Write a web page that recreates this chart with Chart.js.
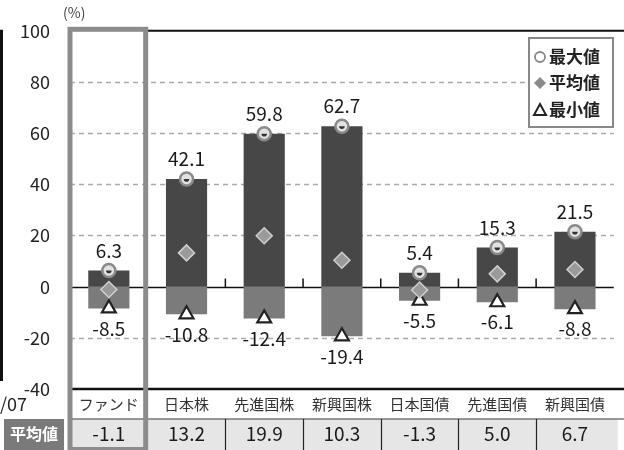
<!DOCTYPE html>
<html>
<head>
<meta charset="utf-8">
<script src="https://cdn.jsdelivr.net/npm/chart.js@4"></script>
<style>
  html, body { margin: 0; padding: 0; background: #fff; }
  #wrap { width: 624px; height: 450px; position: relative; }
</style>
</head>
<body>
<div id="wrap"><canvas id="chart" width="624" height="450"></canvas></div>
<script>
const categories = ['ファンド', '日本株', '先進国株', '新興国株', '日本国債', '先進国債', '新興国債'];
const maxValues = [6.3, 42.1, 59.8, 62.7, 5.4, 15.3, 21.5];
const minValues = [-8.5, -10.8, -12.4, -19.4, -5.5, -6.1, -8.8];
const avgValues = [-1.1, 13.2, 19.9, 10.3, -1.3, 5.0, 6.7];
const yTicks = [100, 80, 60, 40, 20, 0, -20, -40];

const FONT = "'Noto Sans CJK JP', 'DejaVu Sans', sans-serif";
Chart.defaults.font.family = FONT;

const overlay = {
    id: 'overlay',
    beforeDatasetsDraw(chart) {
        const ctx = chart.ctx, x = chart.scales.x, y = chart.scales.y, a = chart.chartArea;
        ctx.save();
        // dashed grid
        ctx.strokeStyle = '#aaaaaa';
        ctx.lineWidth = 1.5;
        ctx.setLineDash([5, 4]);
        [80, 60, 40, 20, -20].forEach(v => {
            const py = Math.round(y.getPixelForValue(v)) + 0.5;
            ctx.beginPath(); ctx.moveTo(a.left, py); ctx.lineTo(a.right, py); ctx.stroke();
        });
        ctx.setLineDash([]);
        // zero line + small ticks
        const z = Math.round(y.getPixelForValue(0)) + 0.5;
        ctx.strokeStyle = '#111';
        ctx.lineWidth = 1.5;
        ctx.beginPath(); ctx.moveTo(a.left, z); ctx.lineTo(a.right, z); ctx.stroke();
        for (let i = 2; i < categories.length; i++) {
            const bx = (x.getPixelForValue(i - 1) + x.getPixelForValue(i)) / 2;
            ctx.beginPath(); ctx.moveTo(bx, z); ctx.lineTo(bx, z - 9); ctx.stroke();
        }
        ctx.restore();
    },
    afterDatasetsDraw(chart) {
        const ctx = chart.ctx, x = chart.scales.x, y = chart.scales.y, a = chart.chartArea;
        ctx.save();
        // inner mark of max circles
        ctx.fillStyle = '#333';
        maxValues.forEach((v, i) => {
            const px = x.getPixelForValue(i), py = y.getPixelForValue(v);
            ctx.beginPath(); ctx.arc(px, py, 2.8, 0, Math.PI); ctx.fill();
        });
        // value labels
        ctx.fillStyle = '#1a1a1a';
        ctx.font = '19px ' + FONT;
        ctx.textAlign = 'center';
        ctx.textBaseline = 'middle';
        maxValues.forEach((v, i) => {
            ctx.fillText(v.toFixed(1), x.getPixelForValue(i), y.getPixelForValue(v) - 20);
        });
        minValues.forEach((v, i) => {
            ctx.fillText(v.toFixed(1), x.getPixelForValue(i), y.getPixelForValue(v) + 20);
        });

        const step = x.getPixelForValue(1) - x.getPixelForValue(0);
        const fundR = x.getPixelForValue(0) + step / 2;
        const top = y.getPixelForValue(100), bot = y.getPixelForValue(-40);

        // frame
        ctx.strokeStyle = '#111';
        ctx.lineWidth = 2;
        ctx.beginPath(); ctx.moveTo(fundR, top); ctx.lineTo(624, top); ctx.stroke();
        ctx.lineWidth = 2.5;
        ctx.beginPath(); ctx.moveTo(a.left, bot); ctx.lineTo(624, bot); ctx.stroke();
        ctx.lineWidth = 3;
        ctx.beginPath(); ctx.moveTo(1.5, top - 1); ctx.lineTo(1.5, 381); ctx.stroke();

        // category labels
        ctx.fillStyle = '#333';
        ctx.font = '15px ' + FONT;
        categories.forEach((c, i) => ctx.fillText(c, x.getPixelForValue(i), 404));
        ctx.font = '18px ' + FONT;
        ctx.textAlign = 'left';
        ctx.fillStyle = '#222';
        ctx.fillText('/07', 0, 404);

        // table row
        const rowTop = 419, rowBot = 450;
        ctx.fillStyle = '#e6e6e6';
        ctx.fillRect(a.left, rowTop, a.right - a.left + 4, rowBot - rowTop);
        ctx.strokeStyle = '#777';
        ctx.lineWidth = 1.5;
        ctx.beginPath(); ctx.moveTo(a.left, rowTop); ctx.lineTo(624, rowTop); ctx.stroke();
        ctx.strokeStyle = '#222';
        ctx.lineWidth = 1.2;
        for (let i = 2; i < categories.length; i++) {
            const bx = Math.round((x.getPixelForValue(i - 1) + x.getPixelForValue(i)) / 2) + 0.5;
            ctx.beginPath(); ctx.moveTo(bx, rowTop); ctx.lineTo(bx, rowBot); ctx.stroke();
        }
        ctx.fillStyle = '#7a7a7a';
        ctx.fillRect(4, rowTop, 60, rowBot - rowTop);
        ctx.fillStyle = '#fff';
        ctx.textAlign = 'center';
        ctx.font = 'bold 16px ' + FONT;
        ctx.fillText('平均値', 34, 434);
        ctx.fillStyle = '#1a1a1a';
        ctx.font = '19px ' + FONT;
        avgValues.forEach((v, i) => ctx.fillText(v.toFixed(1), x.getPixelForValue(i), 434));

        // fund highlight box
        ctx.strokeStyle = '#8c8c8c';
        ctx.lineWidth = 5;
        ctx.strokeRect(a.left, top - 1.5, fundR - a.left - 2, 450 - top + 1);

        // unit
        ctx.fillStyle = '#444';
        ctx.font = '14px ' + FONT;
        ctx.textAlign = 'left';
        ctx.fillText('(%)', 63, 13);

        // legend
        ctx.fillStyle = '#fff';
        ctx.fillRect(529, 38, 84, 89);
        ctx.strokeStyle = '#888';
        ctx.lineWidth = 2;
        ctx.strokeRect(529, 38, 84, 89);
        ctx.font = 'bold 17px ' + FONT;
        ctx.fillStyle = '#222';
        const ly = [57, 83, 110];
        ['最大値', '平均値', '最小値'].forEach((t, i) => ctx.fillText(t, 549, ly[i]));
        ctx.lineWidth = 1.8;
        ctx.strokeStyle = '#888';
        ctx.beginPath(); ctx.arc(540, ly[0], 5, 0, 2 * Math.PI); ctx.stroke();
        ctx.fillStyle = '#8a8a8a';
        ctx.beginPath(); ctx.moveTo(540, ly[1] - 6); ctx.lineTo(546, ly[1]); ctx.lineTo(540, ly[1] + 6); ctx.lineTo(534, ly[1]); ctx.closePath(); ctx.fill();
        ctx.strokeStyle = '#222';
        ctx.lineWidth = 2;
        ctx.beginPath(); ctx.moveTo(540, ly[2] - 6); ctx.lineTo(546, ly[2] + 5); ctx.lineTo(534, ly[2] + 5); ctx.closePath(); ctx.stroke();
        ctx.restore();
    }
};

new Chart(document.getElementById('chart'), {
    type: 'bar',
    data: {
        labels: categories,
        datasets: [
            {
                type: 'line', label: '最大値', data: maxValues, showLine: false, order: 0,
                pointStyle: 'circle', pointRadius: 6.5, pointBackgroundColor: '#e2e2e2',
                pointBorderColor: '#8a8a8a', pointBorderWidth: 2.5
            },
            {
                type: 'line', label: '平均値', data: avgValues, showLine: false, order: 0,
                pointStyle: 'rectRot', pointRadius: 8, pointBackgroundColor: '#9a9a9a',
                pointBorderColor: '#cfcfcf', pointBorderWidth: 1.5
            },
            {
                type: 'line', label: '最小値', data: minValues, showLine: false, order: 0,
                pointStyle: 'triangle', pointRadius: 8, pointBackgroundColor: '#ffffff',
                pointBorderColor: '#222', pointBorderWidth: 2.2
            },
            {
                label: 'max', data: maxValues.map(v => [0, v]), backgroundColor: '#474747',
                grouped: false, barPercentage: 0.53, categoryPercentage: 1, order: 2
            },
            {
                label: 'min', data: minValues.map(v => [v, 0]), backgroundColor: '#7b7b7b',
                grouped: false, barPercentage: 0.53, categoryPercentage: 1, order: 2
            }
        ]
    },
    options: {
        responsive: false,
        animation: false,
        layout: { padding: { top: 29, bottom: 61, right: 2, left: 0 } },
        plugins: { legend: { display: false }, tooltip: { enabled: false } },
        scales: {
            x: { display: false, offset: true },
            y: {
                min: -40, max: 100,
                afterFit: s => { s.width = 70; },
                afterBuildTicks: s => { s.ticks = yTicks.map(v => ({ value: v })); },
                grid: { display: false, drawTicks: false },
                border: { display: false },
                ticks: { padding: 20, color: '#222', font: { size: 18 } }
            }
        }
    },
    plugins: [overlay]
});
</script>
</body>
</html>
